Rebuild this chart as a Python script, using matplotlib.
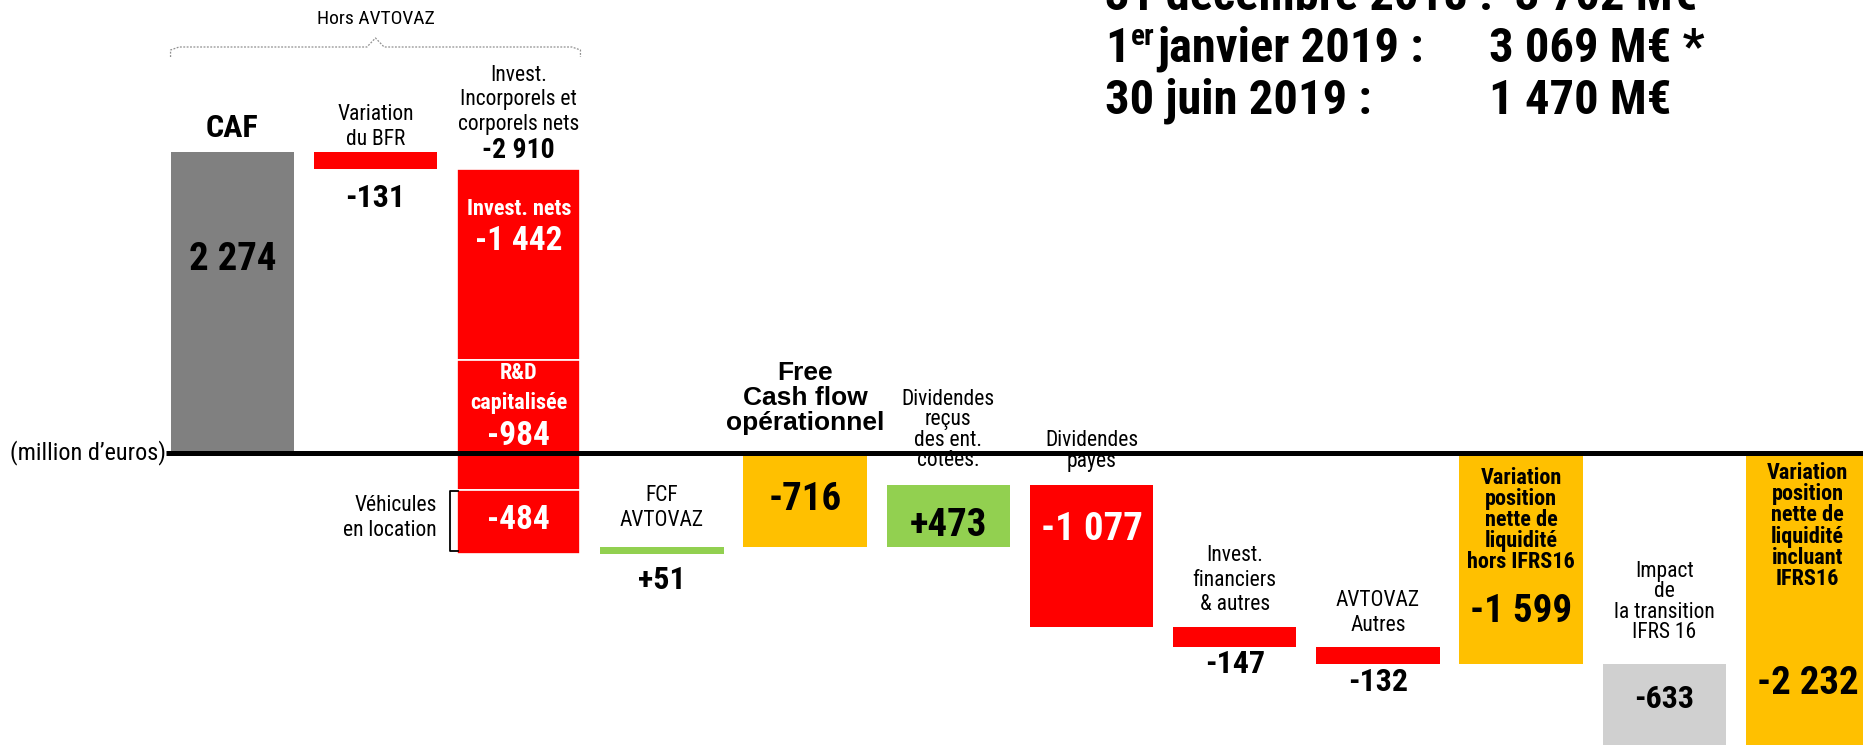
import matplotlib
matplotlib.use('Agg')
import matplotlib.pyplot as plt
from matplotlib import font_manager as fm

names = {f.name for f in fm.fontManager.ttflist}
NARROW = next((n for n in ['Liberation Sans Narrow', 'Roboto Condensed', 'PT Sans Narrow',
                           'Liberation Sans'] if n in names), 'DejaVu Sans')
WIDE = 'Liberation Sans' if 'Liberation Sans' in names else 'DejaVu Sans'
plt.rcParams['font.family'] = [NARROW, 'DejaVu Sans']

# ---------------- data ----------------
categories = ['CAF', 'Variation\ndu BFR', 'Invest.\nIncorporels et\ncorporels nets',
              'FCF\nAVTOVAZ', 'Free\nCash flow\nopérationnel',
              'Dividendes\nreçus\ndes ent.\ncotées.', 'Dividendes\npayes',
              'Invest.\nfinanciers\n& autres', 'AVTOVAZ\nAutres',
              'Variation\nposition\nnette de\nliquidité\nhors IFRS16',
              'Impact\nde\nla transition\nIFRS 16',
              'Variation\nposition\nnette de\nliquidité\nincluant\nIFRS16']
values = [2274, -131, -2910, 51, -716, 473, -1077, -147, -132, -1599, -633, -2232]
value_labels = ['2 274', '-131', '-2 910', '+51', '-716', '+473', '-1 077', '-147',
                '-132', '-1 599', '-633', '-2 232']
is_total = [True, False, False, False, True, False, False, False, False, True, False, True]
colors = ['#808080', '#FF0000', '#FF0000', '#92D050', '#FFC000', '#92D050', '#FF0000',
          '#FF0000', '#FF0000', '#FFC000', '#D0D0D0', '#FFC000']
invest_parts = [-1442, -984, -484]
invest_part_names = ['Invest. nets', 'R&D\ncapitalisée', '']
invest_part_labels = ['-1 442', '-984', '-484']
first_position = '31 décembre 2018 :  3 702 M€'
positions_text = [('janvier 2019 :', '3 069 M€ *'),
                  ('30 juin 2019 :', '1 470 M€')]

# ---------------- layout ----------------
W, H = 1863, 745
fig = plt.figure(figsize=(W / 100, H / 100), dpi=100)
ax = fig.add_axes([0, 0, 1, 1])
x0px, step_px = 232.3, 143.2
base_px, scale = 452.7, 0.1322  # px per M EUR
ax.set_xlim(-x0px / step_px, (W - x0px) / step_px)
ax.set_ylim(-(H - base_px) / scale, base_px / scale)
ax.axis('off')


def yd(ypx):
    """figure pixel row (from top) -> data value"""
    return (base_px - ypx) / scale


def xd(xpx):
    return (xpx - x0px) / step_px


bw = 123.5 / step_px

# waterfall
level = 0
bottoms, heights = [], []
for v, tot in zip(values, is_total):
    if tot:
        b, h = 0, v
        level = v
    else:
        b, h = level, v
        level = level + v
    bottoms.append(b)
    heights.append(h)

for i, (b, h, c) in enumerate(zip(bottoms, heights, colors)):
    if i == 2:
        lv = b
        for p in invest_parts:
            ax.bar(i, p, bottom=lv, width=bw, color=c, edgecolor='white', linewidth=1.2, zorder=2)
            lv += p
    else:
        ax.bar(i, h, bottom=b, width=bw, color=c, linewidth=0, zorder=2)

# baseline
ax.plot([xd(166), xd(W + 5)], [0, 0], color='black', lw=3.6, zorder=3, solid_capstyle='butt')
ax.text(xd(166), 0, '(million d\u2019euros)', ha='right', va='center', fontsize=17.5)

# labels
NORMAL = 15.5
BIGV = 28
MIDV = 23
# CAF
ax.text(0, yd(128), categories[0], ha='center', va='center', fontsize=23, fontweight='bold')
ax.text(0, yd(259), value_labels[0], ha='center', va='center', fontsize=28, fontweight='bold')
# BFR
ax.text(1, yd(127), categories[1], ha='center', va='center', fontsize=NORMAL)
ax.text(1, yd(198), value_labels[1], ha='center', va='center', fontsize=MIDV, fontweight='bold')
# Invest
ax.text(2, yd(100), categories[2], ha='center', va='center', fontsize=NORMAL)
ax.text(2, yd(151), value_labels[2], ha='center', va='center', fontsize=20, fontweight='bold')
ax.text(2, yd(209), invest_part_names[0], ha='center', va='center', fontsize=16,
        fontweight='bold', color='white', zorder=4)
ax.text(2, yd(241), invest_part_labels[0], ha='center', va='center', fontsize=24,
        fontweight='bold', color='white', zorder=4)
ax.text(2, yd(388), invest_part_names[1], ha='center', va='center', fontsize=16,
        fontweight='bold', color='white', zorder=4, linespacing=1.5)
ax.text(2, yd(436), invest_part_labels[1], ha='center', va='center', fontsize=24,
        fontweight='bold', color='white', zorder=4)
ax.text(2, yd(520), invest_part_labels[2], ha='center', va='center', fontsize=24,
        fontweight='bold', color='white', zorder=4)
ax.text(xd(437), yd(518), 'Véhicules\nen location', ha='right', va='center', fontsize=NORMAL)
ax.plot([xd(458), xd(450), xd(450), xd(458)], [yd(491), yd(491), yd(551), yd(551)],
        color='black', lw=1.3, zorder=3)
# FCF AVTOVAZ
ax.text(3, yd(508), categories[3], ha='center', va='center', fontsize=NORMAL)
ax.text(3, yd(580), value_labels[3], ha='center', va='center', fontsize=MIDV, fontweight='bold')
# FCF op
ax.text(4, yd(398), categories[4], ha='center', va='center', fontsize=19,
        fontweight='bold', family=[WIDE, 'DejaVu Sans'], linespacing=1.05)
ax.text(4, yd(499), value_labels[4], ha='center', va='center', fontsize=BIGV, fontweight='bold')
# Dividendes recus
ax.text(5, yd(430), categories[5], ha='center', va='center', fontsize=NORMAL, linespacing=0.95)
ax.text(5, yd(526), value_labels[5], ha='center', va='center', fontsize=BIGV, fontweight='bold')
# Dividendes payes
ax.text(6, yd(451), categories[6], ha='center', va='center', fontsize=NORMAL, linespacing=0.95)
ax.text(6, yd(529), value_labels[6], ha='center', va='center', fontsize=BIGV, fontweight='bold',
        color='white')
# Invest fin
ax.text(7, yd(580), categories[7], ha='center', va='center', fontsize=NORMAL)
ax.text(7, yd(664), value_labels[7], ha='center', va='center', fontsize=MIDV, fontweight='bold')
# AVTOVAZ autres
ax.text(8, yd(613), categories[8], ha='center', va='center', fontsize=NORMAL)
ax.text(8, yd(682), value_labels[8], ha='center', va='center', fontsize=MIDV, fontweight='bold')
# Variation hors IFRS16
ax.text(9, yd(520), categories[9], ha='center', va='center', fontsize=16, fontweight='bold',
        linespacing=0.95, zorder=4)
ax.text(9, yd(612), value_labels[9], ha='center', va='center', fontsize=BIGV, fontweight='bold', zorder=4)
# Impact
ax.text(10, yd(602), categories[10], ha='center', va='center', fontsize=NORMAL, linespacing=0.95)
ax.text(10, yd(699), value_labels[10], ha='center', va='center', fontsize=MIDV, fontweight='bold')
# Variation incluant
ax.text(11, yd(526), categories[11], ha='center', va='center', fontsize=16, fontweight='bold',
        linespacing=0.95, zorder=4)
ax.text(11, yd(683), value_labels[11], ha='center', va='center', fontsize=BIGV, fontweight='bold', zorder=4)

# Hors AVTOVAZ brace
xl, xr = 0 - bw / 2, 2 + bw / 2
xm = (xl + xr) / 2
d = 0.06
bx = [xl, xl, xl + d, xm - d, xm, xm + d, xr - d, xr, xr]
by = [yd(57), yd(50), yd(47), yd(47), yd(38), yd(47), yd(47), yd(50), yd(57)]
ax.plot(bx, by, color='#909090', lw=0.9, ls=(0, (1.5, 1.2)))
ax.text(xm, yd(19), 'Hors AVTOVAZ', ha='center', va='center', fontsize=14)

# top-right summary
TOP = 35
ax.text(xd(1105), yd(10), first_position, ha='left', va='baseline', fontsize=TOP, fontweight='bold')
rows_y = [62, 114]
for (lab, val), ry in zip(positions_text, rows_y):
    if lab.startswith('janvier'):
        t1 = ax.text(xd(1105), yd(ry), '1', ha='left', va='baseline', fontsize=TOP, fontweight='bold')
        fig.canvas.draw()
        bb = t1.get_window_extent()
        t2 = ax.text(xd(bb.x1 + 1), yd(ry - 17), 'er', ha='left', va='baseline',
                     fontsize=TOP * 0.6, fontweight='bold')
        fig.canvas.draw()
        bb2 = t2.get_window_extent()
        ax.text(xd(bb2.x1 + 3), yd(ry), lab, ha='left', va='baseline', fontsize=TOP, fontweight='bold')
    else:
        ax.text(xd(1105), yd(ry), lab, ha='left', va='baseline', fontsize=TOP, fontweight='bold')
    ax.text(xd(1489), yd(ry), val, ha='left', va='baseline', fontsize=TOP, fontweight='bold')

fig.savefig('out.png', dpi=100)
